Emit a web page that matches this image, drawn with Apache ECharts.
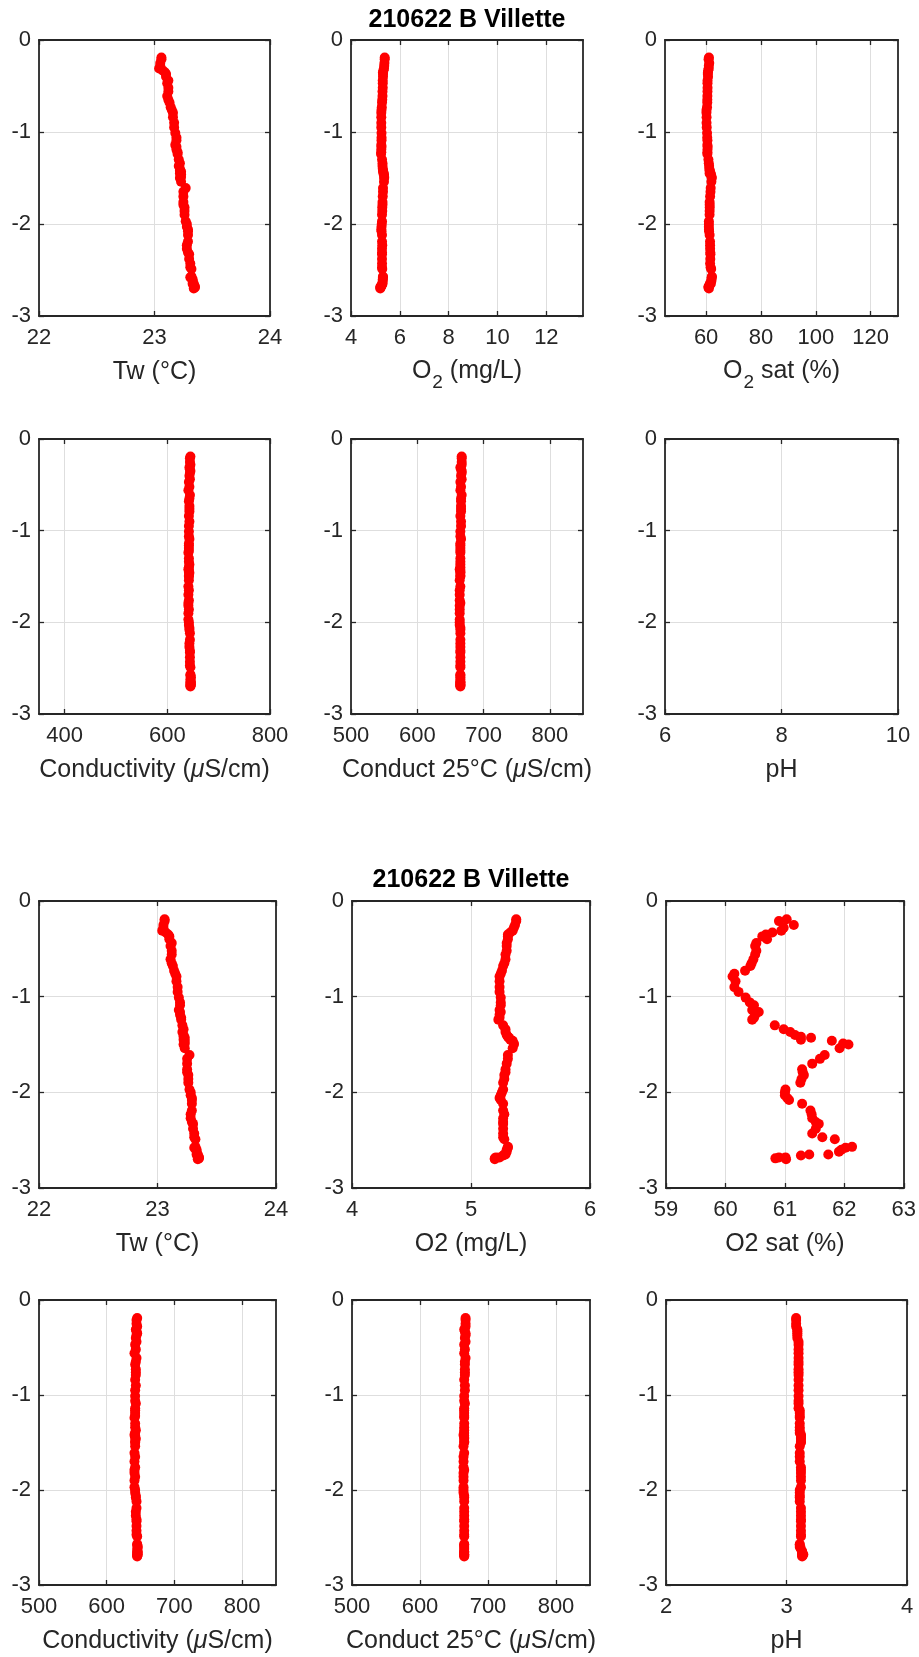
<!DOCTYPE html>
<html>
<head>
<meta charset="utf-8">
<script src="https://cdn.jsdelivr.net/npm/echarts@6/dist/echarts.min.js"></script>
<style>
html,body{margin:0;padding:0;background:#ffffff;}
#chart{width:919px;height:1657px;}
</style>
</head>
<body>
<div id="chart"></div>
<script>
// ---------------- DATA ----------------
const chartTitle = '210622 B Villette';

const depth = [
  -0.19,-0.21,-0.25,-0.28,-0.31,-0.33,-0.35,-0.37,-0.40,-0.44,
  -0.47,-0.52,-0.56,-0.61,-0.65,-0.68,-0.73,-0.76,-0.79,-0.84,
  -0.90,-0.95,-1.01,-1.06,-1.09,-1.14,-1.16,-1.19,-1.22,-1.24,
  -1.30,-1.34,-1.37,-1.40,-1.42,-1.43,-1.45,-1.46,-1.49,-1.50,
  -1.54,-1.61,-1.65,-1.70,-1.76,-1.79,-1.82,-1.86,-1.90,-1.97,
  -2.00,-2.03,-2.06,-2.08,-2.12,-2.19,-2.23,-2.27,-2.31,-2.33,
  -2.38,-2.43,-2.47,-2.49,-2.57,-2.58,-2.60,-2.62,-2.65,-2.65,
  -2.66,-2.68,-2.68,-2.69,-2.70
];

const tw = [
  23.06,23.06,23.05,23.05,23.04,23.07,23.09,23.10,23.10,23.12,
  23.11,23.12,23.12,23.11,23.12,23.13,23.14,23.15,23.16,23.16,
  23.17,23.17,23.18,23.19,23.19,23.18,23.19,23.19,23.20,23.20,
  23.21,23.22,23.21,23.22,23.22,23.23,23.22,23.23,23.23,23.22,
  23.23,23.27,23.25,23.25,23.25,23.25,23.26,23.26,23.26,23.27,
  23.28,23.28,23.29,23.29,23.29,23.29,23.28,23.28,23.29,23.30,
  23.30,23.31,23.31,23.32,23.32,23.31,23.33,23.33,23.34,23.33,
  23.34,23.35,23.34,23.35,23.34
];

const o2 = [
  5.38,5.38,5.37,5.36,5.35,5.33,5.31,5.31,5.31,5.30,
  5.30,5.30,5.29,5.29,5.28,5.27,5.26,5.25,5.24,5.24,
  5.24,5.24,5.25,5.25,5.25,5.24,5.25,5.24,5.24,5.23,
  5.27,5.29,5.29,5.30,5.31,5.32,5.33,5.35,5.36,5.36,
  5.35,5.31,5.31,5.30,5.29,5.29,5.28,5.28,5.27,5.27,
  5.26,5.25,5.24,5.25,5.27,5.27,5.28,5.27,5.27,5.27,
  5.27,5.27,5.27,5.28,5.31,5.31,5.30,5.30,5.29,5.28,
  5.27,5.24,5.21,5.20,5.20
];

const o2sat = [
  61.03,60.90,61.15,60.98,60.94,60.79,60.68,60.62,60.70,60.52,
  60.50,60.52,60.50,60.47,60.44,60.42,60.33,60.15,60.12,60.17,
  60.15,60.22,60.34,60.41,60.48,60.45,60.56,60.50,60.48,60.45,
  60.83,60.98,61.09,61.17,61.27,61.44,61.27,61.79,61.98,62.07,
  61.92,61.67,61.59,61.46,61.29,61.30,61.32,61.28,61.26,61.01,
  61.00,61.00,61.04,61.07,61.29,61.43,61.45,61.46,61.52,61.57,
  61.52,61.46,61.63,61.84,62.13,62.02,61.95,61.91,61.73,61.41,
  61.27,61.01,60.90,60.84,61.02
];

const cond = [
  645,644,644,645,643,644,645,644,643,644,
  642,643,641,644,643,642,643,643,643,642,
  643,642,642,642,643,642,642,642,642,641,
  642,642,643,642,641,642,642,643,642,642,
  642,641,642,641,642,641,641,642,641,641,
  642,642,643,643,644,644,643,643,644,644,
  644,644,644,645,645,645,646,645,646,645,
  645,645,646,645,645
];

const cond25 = [
  667,667,667,667,665,666,667,667,666,667,
  665,666,665,667,666,666,666,666,666,665,
  666,666,665,665,666,665,665,665,665,665,
  665,665,665,665,664,665,665,665,665,665,
  664,665,664,664,664,665,664,664,664,664,
  664,664,665,665,665,665,665,665,665,665,
  665,665,665,665,665,665,665,665,665,665,
  665,665,665,665,665
];

const ph = [
  3.08,3.08,3.08,3.08,3.09,3.09,3.09,3.09,3.09,3.10,
  3.10,3.10,3.10,3.10,3.10,3.10,3.10,3.10,3.10,3.10,
  3.10,3.10,3.10,3.10,3.10,3.10,3.11,3.11,3.11,3.11,
  3.11,3.11,3.11,3.11,3.12,3.12,3.12,3.12,3.12,3.12,
  3.11,3.11,3.11,3.11,3.12,3.12,3.12,3.12,3.12,3.12,
  3.11,3.11,3.11,3.11,3.11,3.12,3.12,3.12,3.12,3.12,
  3.12,3.12,3.12,3.12,3.11,3.11,3.11,3.12,3.13,3.13,
  3.13,3.13,3.14,3.13,3.13
];

// tick labels
const depthTicks = [0, -1, -2, -3];
const twTicks = [22, 23, 24];
const o2TicksWide = [4, 6, 8, 10, 12];
const o2satTicksWide = [60, 80, 100, 120];
const condTicksWide = [400, 600, 800];
const condTicks = [500, 600, 700, 800];
const phTicksWide = [6, 8, 10];
const o2TicksNarrow = [4, 5, 6];
const o2satTicksNarrow = [59, 60, 61, 62, 63];
const phTicksNarrow = [2, 3, 4];

// axis names
const nameTw = 'Tw (°C)';
const nameO2Sub = '{m|O}{sub|2}{m| (mg/L)}';
const nameO2satSub = '{m|O}{sub|2}{m| sat (%)}';
const nameO2 = 'O2 (mg/L)';
const nameO2sat = 'O2 sat (%)';
const nameCond = 'Conductivity ({mu|μ}S/cm)';
const nameCond25 = 'Conduct 25°C ({mu|μ}S/cm)';
const namePh = 'pH';

// ---------------- LAYOUT ----------------
const TEXT = '#262626';
const FONT = '"Liberation Sans", Arial, Helvetica, sans-serif';
const TICK_FS = 22;
const NAME_FS = 25;
const figCols = [
  [[39, 270], [351, 583], [665, 898]],
  [[39, 276], [352, 590], [666, 907]]
];
const figRows = [
  [[40, 316], [439, 714]],
  [[901, 1188], [1300, 1585]]
];

const panels = [
  {fig:0,row:0,col:0,vals:tw,    min:22, max:24,   ticks:twTicks,        name:nameTw},
  {fig:0,row:0,col:1,vals:o2,    min:4,  max:13.5, ticks:o2TicksWide,    name:nameO2Sub},
  {fig:0,row:0,col:2,vals:o2sat, min:45, max:130,  ticks:o2satTicksWide, name:nameO2satSub},
  {fig:0,row:1,col:0,vals:cond,  min:350,max:800,  ticks:condTicksWide,  name:nameCond},
  {fig:0,row:1,col:1,vals:cond25,min:500,max:850,  ticks:condTicks,      name:nameCond25},
  {fig:0,row:1,col:2,vals:ph,    min:6,  max:10,   ticks:phTicksWide,    name:namePh},
  {fig:1,row:0,col:0,vals:tw,    min:22, max:24,   ticks:twTicks,        name:nameTw},
  {fig:1,row:0,col:1,vals:o2,    min:4,  max:6,    ticks:o2TicksNarrow,  name:nameO2},
  {fig:1,row:0,col:2,vals:o2sat, min:59, max:63,   ticks:o2satTicksNarrow,name:nameO2sat},
  {fig:1,row:1,col:0,vals:cond,  min:500,max:850,  ticks:condTicks,      name:nameCond},
  {fig:1,row:1,col:1,vals:cond25,min:500,max:850,  ticks:condTicks,      name:nameCond25},
  {fig:1,row:1,col:2,vals:ph,    min:2,  max:4,    ticks:phTicksNarrow,  name:namePh}
];

const lineStyle = {color: TEXT, width: 1.8};
const tickStyle = {show: true, inside: true, length: 5, lineStyle: {color: TEXT, width: 1.3}};
const gridLine = {show: true, lineStyle: {color: '#dedede', width: 1}};
const richStyles = {
  m:   {fontFamily: FONT, fontSize: NAME_FS, color: TEXT, lineHeight: 26, verticalAlign: 'top'},
  sub: {fontFamily: FONT, fontSize: 19, color: TEXT, lineHeight: 19, padding: [14, 0, 0, 1], verticalAlign: 'top'},
  mu:  {fontFamily: FONT, fontSize: NAME_FS, color: TEXT, fontStyle: 'italic'}
};

const grid = [], xAxis = [], yAxis = [], series = [];
panels.forEach((p, i) => {
  const [l, r] = figCols[p.fig][p.col];
  const [t, b] = figRows[p.fig][p.row];
  grid.push({left: l, top: t, width: r - l, height: b - t, show: false, containLabel: false});

  const xi = xAxis.length;
  xAxis.push({
    gridIndex: i, type: 'value', position: 'bottom', min: p.min, max: p.max,
    axisLine: {show: true, onZero: false, lineStyle: lineStyle},
    axisTick: Object.assign({customValues: p.ticks}, tickStyle),
    axisLabel: {customValues: p.ticks, color: TEXT, fontFamily: FONT, fontSize: TICK_FS, margin: 11},
    splitLine: gridLine,
    name: p.name, nameLocation: 'middle', nameGap: 43,
    nameTextStyle: {color: TEXT, fontFamily: FONT, fontSize: NAME_FS, lineHeight: 26, rich: richStyles}
  });
  xAxis.push({
    gridIndex: i, type: 'value', position: 'top', min: p.min, max: p.max,
    axisLine: {show: true, onZero: false, lineStyle: lineStyle},
    axisTick: Object.assign({customValues: p.ticks}, tickStyle),
    axisLabel: {show: false, customValues: p.ticks},
    splitLine: {show: false}
  });

  const yi = yAxis.length;
  yAxis.push({
    gridIndex: i, type: 'value', position: 'left', min: -3, max: 0,
    axisLine: {show: true, onZero: false, lineStyle: lineStyle},
    axisTick: Object.assign({customValues: depthTicks}, tickStyle),
    axisLabel: {customValues: depthTicks, color: TEXT, fontFamily: FONT, fontSize: TICK_FS, margin: 8},
    splitLine: gridLine
  });
  yAxis.push({
    gridIndex: i, type: 'value', position: 'right', min: -3, max: 0,
    axisLine: {show: true, onZero: false, lineStyle: lineStyle},
    axisTick: Object.assign({customValues: depthTicks}, tickStyle),
    axisLabel: {show: false, customValues: depthTicks},
    splitLine: {show: false}
  });

  series.push({
    type: 'scatter', xAxisIndex: xi, yAxisIndex: yi,
    clip: true, symbol: 'circle', symbolSize: 10,
    itemStyle: {color: '#ff0000', opacity: 1},
    silent: true, animation: false,
    data: depth.map((d, k) => [p.vals[k], d])
  });
});

const titleY = [20, 880];
const graphic = titleY.map((y, f) => {
  const [l, r] = figCols[f][1];
  return {
    type: 'text', x: (l + r) / 2, y: y,
    style: {text: chartTitle, fill: '#000000', font: 'bold 25px ' + FONT,
            textAlign: 'center', textVerticalAlign: 'middle'}
  };
});

const chart = echarts.init(document.getElementById('chart'), null, {renderer: 'canvas'});
chart.setOption({
  animation: false,
  backgroundColor: '#ffffff',
  grid: grid, xAxis: xAxis, yAxis: yAxis, series: series, graphic: graphic
});
</script>
</body>
</html>
